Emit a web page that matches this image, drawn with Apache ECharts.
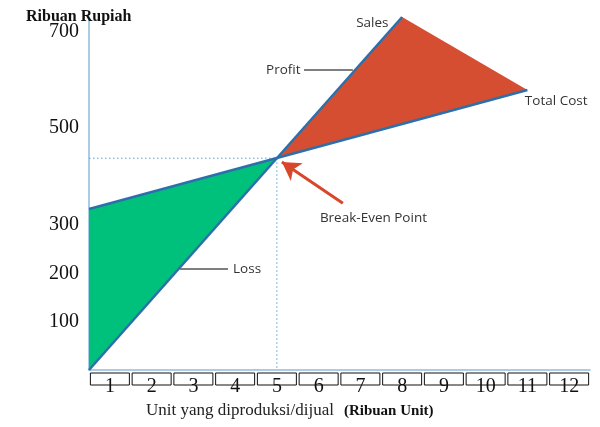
<!DOCTYPE html>
<html>
<head>
<meta charset="utf-8">
<script src="https://cdn.jsdelivr.net/npm/echarts@6/dist/echarts.min.js"></script>
<style>html,body{margin:0;padding:0;background:#fff;}#c{width:600px;height:427px;}</style>
</head>
<body>
<div id="c"></div>
<script>
// ---- data ----
var unitLabels = ['1','2','3','4','5','6','7','8','9','10','11','12'];
var yTickLabels = [100, 200, 300, 500, 700];
var salesLine = [[0, 0], [7.5, 730]];
var totalCostLine = [[0, 333], [10.5, 579]];
var breakEven = [4.5, 438];
// annotations: [text, x, y] (left edge, vertical middle)
var annoTexts = [
  ['Sales', 6.40, 717],
  ['Profit', 4.24, 620],
  ['Total Cost', 10.44, 556],
  ['Break-Even Point', 5.53, 314],
  ['Loss', 3.45, 209]
];
var profitLeader = [[5.15, 620], [6.32, 620]];
var lossLeader = [[2.18, 209], [3.33, 209]];
var bepArrow = [[6.08, 345], [4.62, 430]];

var lossPoly = [salesLine[0], totalCostLine[0], breakEven];
var profitPoly = [breakEven, salesLine[1], totalCostLine[1]];

var blue = '#2c70ab';
var axisBlue = '#8fbcdb';
var serif = '"Liberation Serif", "Times New Roman", serif';
var sans = '"Open Sans", "Noto Sans", sans-serif';

var chart = echarts.init(document.getElementById('c'), null, {renderer: 'canvas'});

function polyRender(params, api) {
  var poly = params.dataIndex === 0 ? lossPoly : profitPoly;
  var pts = poly.map(function (p) { return api.coord(p); });
  return {
    type: 'polygon',
    shape: {points: pts},
    style: {fill: params.dataIndex === 0 ? '#00c17b' : '#d54e31'}
  };
}

var option = {
  animation: false,
  title: [
    {text: 'Ribuan Rupiah', left: 21, top: 4,
     textStyle: {fontFamily: serif, fontWeight: 'bold', fontSize: 16, color: '#111'}},
    {text: '{a|Unit yang diproduksi/dijual}  {b|(Ribuan Unit)}', left: 141, top: 397,
     textStyle: {fontWeight: 'normal', rich: {
       a: {fontFamily: serif, fontSize: 17, fontWeight: 'normal', color: '#222'},
       b: {fontFamily: serif, fontSize: 15, fontWeight: 'bold', color: '#111'}
     }}}
  ],
  grid: {left: 89, right: 10, top: 17, bottom: 57, containLabel: false},
  xAxis: [
    {type: 'value', min: 0, max: 12, position: 'bottom',
     axisLine: {show: true, lineStyle: {color: axisBlue, width: 1.5}},
     axisTick: {show: false}, axisLabel: {show: false}, splitLine: {show: false}},
    {type: 'category', data: unitLabels, boundaryGap: true, position: 'bottom',
     axisLine: {show: false}, axisTick: {show: false}, splitLine: {show: false},
     axisLabel: {interval: 0, margin: 3, formatter: function () { return ' '; },
       width: 39, height: 12, borderColor: '#111', borderWidth: 1, color: 'transparent', fontSize: 10}},
    {type: 'category', data: unitLabels, boundaryGap: true, position: 'bottom',
     axisLine: {show: false}, axisTick: {show: false}, splitLine: {show: false},
     axisLabel: {interval: 0, margin: 7, fontFamily: serif, fontSize: 20, color: '#111'}}
  ],
  yAxis: {
    type: 'value', min: 0, max: 730, interval: 100,
    axisLine: {show: true, lineStyle: {color: axisBlue, width: 1.5}},
    axisTick: {show: false}, splitLine: {show: false},
    axisLabel: {margin: 10, fontFamily: serif, fontSize: 20, color: '#111',
      formatter: function (v) { return yTickLabels.indexOf(v) >= 0 ? String(v) : ''; }}
  },
  series: [
    {type: 'custom', xAxisIndex: 0, renderItem: polyRender, data: [0, 1], z: 1, silent: true},
    {type: 'line', name: 'Guide', xAxisIndex: 0, data: [[0, breakEven[1]], breakEven, [breakEven[0], 0]],
     symbol: 'none', lineStyle: {color: '#5b9fd3', width: 1, type: [1.5, 2.5]}, z: 0, silent: true},
    {type: 'line', name: 'Sales', xAxisIndex: 0, data: salesLine, symbol: 'none',
     lineStyle: {color: blue, width: 2.5}, z: 3, silent: true},
    {type: 'line', name: 'Total Cost', xAxisIndex: 0, data: totalCostLine, symbol: 'none',
     lineStyle: {color: blue, width: 2.5}, z: 3, silent: true,
     markLine: {
       silent: true, symbol: 'none', animation: false,
       label: {show: false},
       data: [
         [{coord: profitLeader[0], lineStyle: {color: '#555', width: 1.5, type: 'solid'}}, {coord: profitLeader[1]}],
         [{coord: lossLeader[0], lineStyle: {color: '#555', width: 1.5, type: 'solid'}}, {coord: lossLeader[1]}],
         [{coord: bepArrow[0], symbol: 'none', lineStyle: {color: '#d9472b', width: 3, type: 'solid'}},
          {coord: bepArrow[1], symbol: 'arrow', symbolSize: [16, 18]}]
       ]
     },
     markPoint: {
       silent: true, symbol: 'circle', symbolSize: 0, animation: false,
       label: {show: true, position: 'inside', align: 'left', verticalAlign: 'middle',
         fontFamily: sans, fontSize: 13.5, color: '#333',
         formatter: function (p) { return p.name; }},
       data: annoTexts.map(function (a) { return {name: a[0], coord: [a[1], a[2]], value: a[0]}; })
     }}
  ]
};
chart.setOption(option);
</script>
</body>
</html>
